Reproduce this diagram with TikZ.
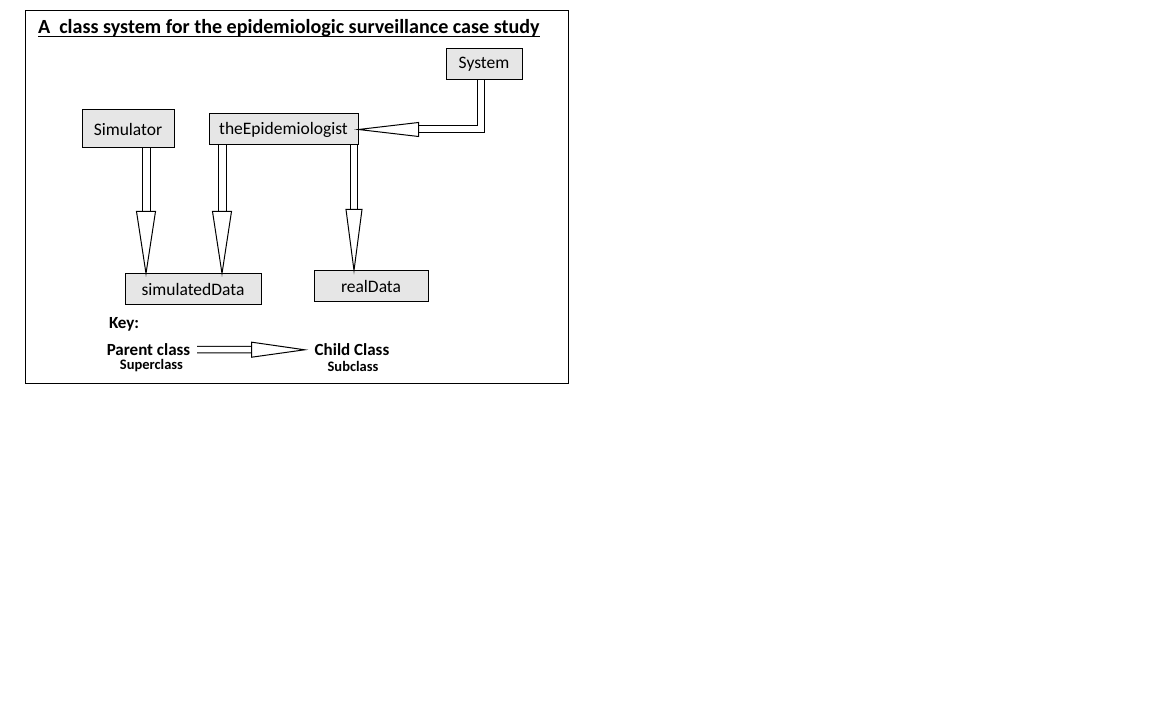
\documentclass[tikz,border=0pt]{standalone}
\usepackage{fontspec}
\setmainfont{Carlito}
\usetikzlibrary{calc}

% hollow block arrow: start, tip, shaft gap, head length, head half width
\newcommand{\inherit}[5]{%
  \path[shaft,double distance=#3] (#1) -- ($(#2)!#4!(#1)$);
  \path[arrowhead] ($(#2)!#4!(#1)!#5!90:(#1)$) -- (#2) --
    ($(#2)!#4!(#1)!#5!-90:(#1)$) -- cycle;
}

\begin{document}
\begin{tikzpicture}[x=1pt,y=1pt,
  classbox/.style={draw=drawColor,fill=boxColor,line width=1pt,inner sep=0pt,
    font=\fontsize{17.5}{21}\selectfont},
  shaft/.style={draw=drawColor,line width=1pt,double=white},
  arrowhead/.style={draw=drawColor,fill=white,line width=1pt,line join=miter},
  keytext/.style={text=drawColor,inner sep=0pt,outer sep=0pt,
    font=\bfseries\fontsize{17}{20}\selectfont},
  subtext/.style={text=drawColor,inner sep=0pt,outer sep=0pt,
    font=\bfseries\fontsize{14.5}{17}\selectfont}]
\definecolor{drawColor}{RGB}{0,0,0}
\definecolor{boxColor}{RGB}{230,230,230}
\path[use as bounding box,fill=white] (0,0) rectangle (1152,720);
\path[draw=drawColor,line width=1pt] (25.5,336.5) rectangle (568.5,709.5);

% title
\node[text=drawColor,anchor=base west,inner sep=0pt,outer sep=0pt,
  font=\bfseries\fontsize{20.1}{24}\selectfont] (title) at (38,686.5)
  {A\ \ class system for the epidemiologic surveillance case study};
\path[draw=drawColor,line width=1.8pt] ([yshift=-3pt]title.base west) -- ([yshift=-3pt]title.base east);

% classes
\node[classbox,minimum width=76,minimum height=31] (System) at (484,655.5) {System};
\node[classbox,minimum width=92,minimum height=38] (Simulator) at (128,591) {Simulator};
\node[classbox,minimum width=149,minimum height=31] (theEpidemiologist) at (283.5,590.5) {theEpidemiologist};
\node[classbox,minimum width=136,minimum height=31] (simulatedData) at (193,430.5) {simulatedData};
\node[classbox,minimum width=114,minimum height=31] (realData) at (371,433.5) {realData};

% inheritance arrows
\coordinate (simA) at ([xshift=18pt]Simulator.south);
\coordinate (simB) at (simA |- simulatedData.north);
\inherit{simA}{simB}{7pt}{62pt}{9.5pt}

\coordinate (epiA) at ([xshift=-61.5pt]theEpidemiologist.south);
\coordinate (epiB) at (epiA |- simulatedData.north);
\inherit{epiA}{epiB}{7pt}{62pt}{9.5pt}

\coordinate (epiC) at ([xshift=70.5pt]theEpidemiologist.south);
\coordinate (epiD) at (epiC |- realData.north);
\inherit{epiC}{epiD}{6pt}{61pt}{8pt}

\coordinate (sysA) at ([xshift=-3pt]System.south);
\coordinate (sysH) at ($(theEpidemiologist.east)+(60,0)$);
\path[shaft,double distance=6pt] (sysA) |- (sysH);
\path[arrowhead] ($(sysH)+(0,7)$) -- (theEpidemiologist.east) -- ($(sysH)+(0,-7)$) -- cycle;

% key
\node[keytext,anchor=base west] (key) at (109,391) {Key:};
\node[keytext,anchor=base] (parent) at (148.5,364.5) {Parent class};
\node[subtext,anchor=base] (superclass) at (151.5,350.5) {Superclass};
\node[keytext,anchor=base] (child) at (352,364.3) {Child Class};
\node[subtext,anchor=base] (subclass) at (353,348.5) {Subclass};
\coordinate (keyA) at ([xshift=7pt]parent.east);
\coordinate (keyB) at ([xshift=-10pt]child.west);
\inherit{keyA}{keyB}{5.5pt}{53pt}{7.5pt}
\end{tikzpicture}
\end{document}
